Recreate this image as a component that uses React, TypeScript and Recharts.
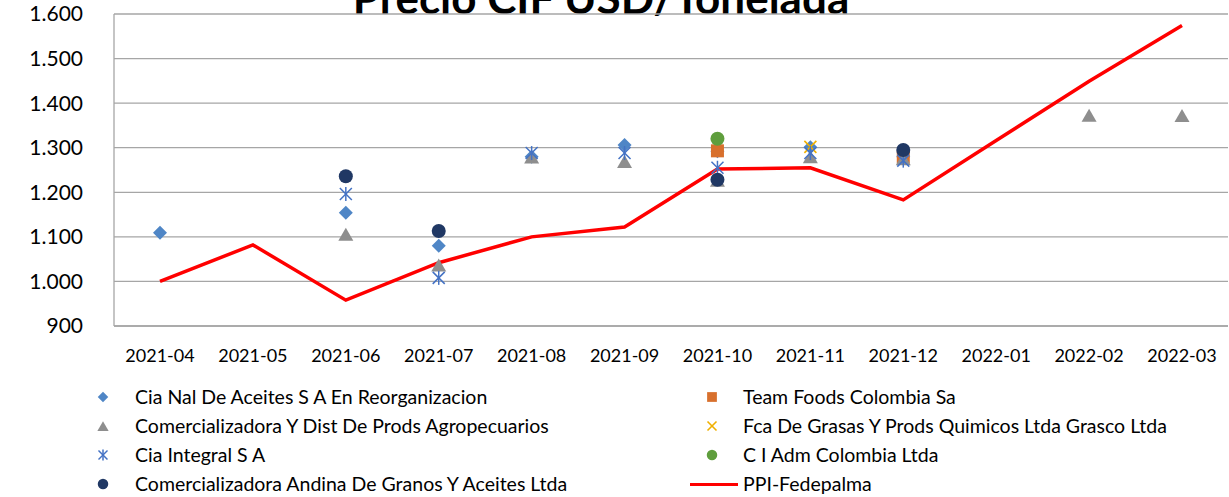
import { ComposedChart, Line, XAxis, YAxis, CartesianGrid } from 'recharts';

const months = ['2021-04', '2021-05', '2021-06', '2021-07', '2021-08', '2021-09', '2021-10', '2021-11', '2021-12', '2022-01', '2022-02', '2022-03'];

const ciaNal = [1109, null, 1154, 1080, 1280, 1306, 1292, 1301, 1280, null, null, null];
const teamFoods = [null, null, null, null, null, null, 1293, null, 1279, null, null, null];
const comDist = [null, null, 1106, 1037, 1279, 1269, 1227, 1280, 1275, null, 1373, 1372];
const fcaGrasas = [null, null, null, null, null, null, null, 1302, null, null, null, null];
const ciaIntegral = [null, null, 1196, 1008, 1288, 1288, 1255, 1288, 1271, null, null, null];
const ciAdm = [null, null, null, null, null, null, 1320, null, null, null, null, null];
const andina = [null, null, 1236, 1113, null, null, 1228, null, 1295, null, null, null];
const ppi = [1000, 1082, 958, 1042, 1100, 1122, 1252, 1255, 1183, 1316, 1449, 1574];

const yTicks = [900, 1000, 1100, 1200, 1300, 1400, 1500, 1600];

const data = months.map((m, i) => ({
  month: m,
  ciaNal: ciaNal[i],
  teamFoods: teamFoods[i],
  comDist: comDist[i],
  fcaGrasas: fcaGrasas[i],
  ciaIntegral: ciaIntegral[i],
  ciAdm: ciAdm[i],
  andina: andina[i],
  ppi: ppi[i],
}));

type MarkerKind = 'diamond' | 'square' | 'triangle' | 'x' | 'asterisk' | 'circle';

const drawMarker = (kind: MarkerKind, color: string, cx: number, cy: number, s = 1) => {
  switch (kind) {
    case 'diamond': {
      const h = 7 * s;
      return <polygon points={`${cx},${cy - h} ${cx + h},${cy} ${cx},${cy + h} ${cx - h},${cy}`} fill={color} />;
    }
    case 'square': {
      const h = 6.5 * s;
      return <rect x={cx - h} y={cy - h} width={2 * h} height={2 * h} fill={color} />;
    }
    case 'triangle': {
      const w = 7.5 * s;
      const h = 6.5 * s;
      return <polygon points={`${cx},${cy - h} ${cx + w},${cy + h} ${cx - w},${cy + h}`} fill={color} />;
    }
    case 'x': {
      const h = 6 * s;
      return (
        <g stroke={color} strokeWidth={1.6}>
          <line x1={cx - h} y1={cy - h} x2={cx + h} y2={cy + h} />
          <line x1={cx - h} y1={cy + h} x2={cx + h} y2={cy - h} />
        </g>
      );
    }
    case 'asterisk': {
      const h = 6 * s;
      return (
        <g stroke={color} strokeWidth={1.5}>
          <line x1={cx - h} y1={cy - h} x2={cx + h} y2={cy + h} />
          <line x1={cx - h} y1={cy + h} x2={cx + h} y2={cy - h} />
          <line x1={cx} y1={cy - h - 1} x2={cx} y2={cy + h + 1} />
        </g>
      );
    }
    default:
      return <circle cx={cx} cy={cy} r={7 * s} fill={color} />;
  }
};

const series: { key: string; name: string; kind: MarkerKind; color: string }[] = [
  { key: 'ciaNal', name: 'Cia Nal De Aceites S A En Reorganizacion', kind: 'diamond', color: '#4F86C6' },
  { key: 'teamFoods', name: 'Team Foods Colombia Sa', kind: 'square', color: '#D8702D' },
  { key: 'comDist', name: 'Comercializadora Y Dist De Prods Agropecuarios', kind: 'triangle', color: '#8E8E8E' },
  { key: 'fcaGrasas', name: 'Fca De Grasas Y Prods Quimicos Ltda Grasco Ltda', kind: 'x', color: '#F0B000' },
  { key: 'ciaIntegral', name: 'Cia Integral S A', kind: 'asterisk', color: '#4472C4' },
  { key: 'ciAdm', name: 'C I Adm Colombia Ltda', kind: 'circle', color: '#5F9E3D' },
  { key: 'andina', name: 'Comercializadora Andina De Granos Y Aceites Ltda', kind: 'circle', color: '#203864' },
];

const fmt = (v: number) => v.toLocaleString('de-DE');

const font = 'Lato, "Liberation Sans", sans-serif';

const LegendMarker = ({ kind, color }: { kind: MarkerKind; color: string }) => (
  <svg width={16} height={16} style={{ position: 'absolute', left: -8, top: -8 }}>
    {drawMarker(kind, color, 8, 8, 0.75)}
  </svg>
);

const App = () => {
  const rows = [0, 1, 2, 3];
  return (
    <div style={{ position: 'absolute', left: 0, top: 0, width: 1229, height: 497, background: '#fff', overflow: 'hidden', fontFamily: font }}>
      <div style={{ position: 'absolute', left: 0, width: 1202, top: -25, textAlign: 'center', fontSize: 44, fontWeight: 700, lineHeight: '44px', color: '#000' }}>
        Precio CIF USD/Tonelada
      </div>
      <div style={{ position: 'absolute', left: 0, top: 0 }}>
        <ComposedChart width={1229} height={370} data={data} margin={{ top: 14, right: 1, left: 0, bottom: 0 }}>
          <CartesianGrid vertical={false} stroke="#A6A6A6" strokeWidth={1.3} />
          <XAxis
            dataKey="month"
            height={44}
            padding={{ left: 46, right: 46 }}
            tickLine={false}
            tickSize={0}
            tickMargin={23}
            axisLine={{ stroke: '#A6A6A6', strokeWidth: 1.3 }}
            tick={{ fontSize: 18, fill: '#000', fontFamily: font }}
            interval={0}
          />
          <YAxis
            domain={[900, 1600]}
            ticks={yTicks}
            width={114}
            tickLine={false}
            tickSize={0}
            tickMargin={31}
            axisLine={{ stroke: '#A6A6A6', strokeWidth: 1.3 }}
            tick={{ fontSize: 21, fill: '#000', fontFamily: font }}
            tickFormatter={fmt}
            interval={0}
          />
          <Line
            dataKey="ppi"
            name="PPI-Fedepalma"
            type="linear"
            stroke="#FF0000"
            strokeWidth={3.5}
            dot={false}
            activeDot={false}
            isAnimationActive={false}
          />
          {series.map((s) => (
            <Line
              key={s.key}
              dataKey={s.key}
              name={s.name}
              stroke="none"
              dot={(p: any) => {
                if (p.value == null || p.cy == null || isNaN(p.cy)) return <g key={`${s.key}-${p.index}`} />;
                return <g key={`${s.key}-${p.index}`}>{drawMarker(s.kind, s.color, p.cx, p.cy)}</g>;
              }}
              activeDot={false}
              isAnimationActive={false}
            />
          ))}
        </ComposedChart>
      </div>
      <div style={{ position: 'absolute', left: 0, top: 0, width: 1229, height: 497, fontSize: 19.5, color: '#000' }}>
        {rows.map((r) => {
          const left = series[r * 2];
          const right = series[r * 2 + 1];
          const cy = 397 + r * 29;
          return (
            <div key={r}>
              <div style={{ position: 'absolute', left: 103, top: cy }}>
                <LegendMarker kind={left.kind} color={left.color} />
              </div>
              <div style={{ position: 'absolute', left: 135, top: cy - 12, lineHeight: '24px', whiteSpace: 'nowrap' }}>{left.name}</div>
              {right ? (
                <div style={{ position: 'absolute', left: 712, top: cy }}>
                  <LegendMarker kind={right.kind} color={right.color} />
                </div>
              ) : (
                <div style={{ position: 'absolute', left: 690, top: cy - 1.5, width: 48, height: 3, background: '#FF0000' }} />
              )}
              <div style={{ position: 'absolute', left: 743, top: cy - 12, lineHeight: '24px', whiteSpace: 'nowrap' }}>
                {right ? right.name : 'PPI-Fedepalma'}
              </div>
            </div>
          );
        })}
      </div>
    </div>
  );
};

export default App;
